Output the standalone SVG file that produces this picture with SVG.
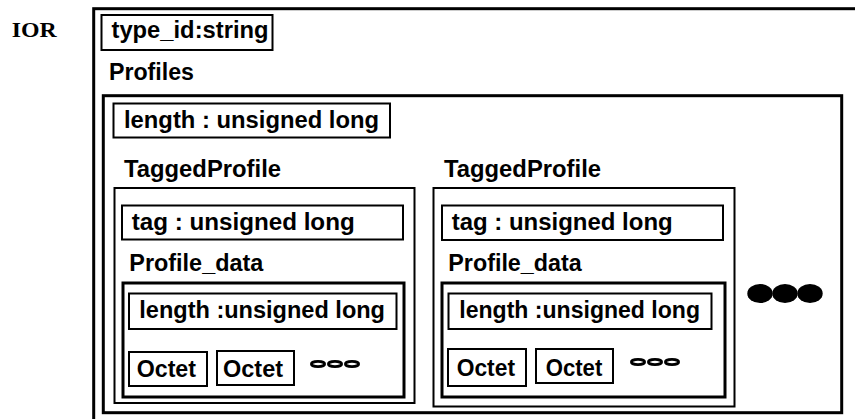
<svg xmlns="http://www.w3.org/2000/svg" width="855" height="419" viewBox="0 0 855 419">
<style>
  .bx{fill:none;stroke:#000;stroke-width:2}
  .thick{fill:none;stroke:#000;stroke-width:3}
  .t{font-family:"Liberation Sans",Arial,sans-serif;font-weight:bold;font-size:23px;fill:#000}
  .ser{font-family:"Liberation Serif","Times New Roman",serif;font-weight:bold;font-size:21px;fill:#000}
  .oo{fill:none;stroke:#000;stroke-width:2.8}
  .dot{fill:#000}
</style>
<rect width="855" height="419" fill="#fff"/>
<g id="ior-label"><text class="ser" x="11.7" y="36.7" textLength="45" lengthAdjust="spacingAndGlyphs">IOR</text></g>
<g id="ior">
  <rect class="thick" x="93.7" y="8.7" width="790" height="430"/>
  <g id="type-id">
    <rect class="bx" x="101.5" y="15" width="171" height="35"/>
    <text class="t" x="111.5" y="38" textLength="157" lengthAdjust="spacingAndGlyphs">type_id:string</text>
  </g>
  <text class="t" x="109" y="79.5" textLength="85" lengthAdjust="spacingAndGlyphs">Profiles</text>
</g>
<g id="profiles">
  <rect class="thick" x="103.3" y="95.7" width="738.4" height="317"/>
  <g id="profiles-length">
    <rect class="bx" x="113.5" y="103.5" width="276.5" height="34"/>
    <text class="t" x="124" y="127.5" textLength="255" lengthAdjust="spacingAndGlyphs">length : unsigned long</text>
  </g>
  <g id="more-profiles">
    <ellipse class="dot" cx="760" cy="293.5" rx="12.7" ry="9.6"/>
    <ellipse class="dot" cx="785" cy="293.5" rx="12.7" ry="9.6"/>
    <ellipse class="dot" cx="810" cy="293.5" rx="12.7" ry="9.6"/>
  </g>
</g>
<g id="tagged-profile-1">
  <text class="t" x="124" y="176.5" textLength="157" lengthAdjust="spacingAndGlyphs">TaggedProfile</text>
  <rect class="bx" x="114.5" y="188" width="300" height="215"/>
  <g id="tag-1">
    <rect class="bx" x="122" y="205.5" width="281" height="34"/>
    <text class="t" x="131.7" y="230" textLength="223" lengthAdjust="spacingAndGlyphs">tag : unsigned long</text>
  </g>
  <text class="t" x="129.3" y="271" textLength="134" lengthAdjust="spacingAndGlyphs">Profile_data</text>
  <g id="profile-data-1">
    <rect class="thick" x="123" y="283" width="281" height="114"/>
    <rect class="bx" x="129" y="293.5" width="267.5" height="35.5"/>
    <text class="t" x="139.3" y="317.5" textLength="245.7" lengthAdjust="spacingAndGlyphs">length :unsigned long</text>
    <rect class="bx" x="129" y="352" width="78" height="34"/>
    <text class="t" x="136.7" y="377" textLength="59.3" lengthAdjust="spacingAndGlyphs">Octet</text>
    <rect class="bx" x="217" y="351" width="77" height="34"/>
    <text class="t" x="223" y="376.8" textLength="60" lengthAdjust="spacingAndGlyphs">Octet</text>
    <ellipse class="oo" cx="318" cy="364" rx="6.6" ry="2.6"/>
    <ellipse class="oo" cx="335" cy="364" rx="6.6" ry="2.6"/>
    <ellipse class="oo" cx="352" cy="364" rx="6.6" ry="2.6"/>
  </g>
</g>
<g id="tagged-profile-2">
  <text class="t" x="444" y="176.5" textLength="157" lengthAdjust="spacingAndGlyphs">TaggedProfile</text>
  <rect class="bx" x="433.5" y="188" width="301" height="218.5"/>
  <g id="tag-2">
    <rect class="bx" x="442" y="205.5" width="281" height="34.5"/>
    <text class="t" x="451.7" y="230" textLength="221" lengthAdjust="spacingAndGlyphs">tag : unsigned long</text>
  </g>
  <text class="t" x="448.3" y="270.5" textLength="133.4" lengthAdjust="spacingAndGlyphs">Profile_data</text>
  <g id="profile-data-2">
    <rect class="thick" x="442" y="283" width="283" height="114"/>
    <rect class="bx" x="448.5" y="293.5" width="263" height="35.5"/>
    <text class="t" x="459.3" y="317.5" textLength="240.7" lengthAdjust="spacingAndGlyphs">length :unsigned long</text>
    <rect class="bx" x="448" y="349" width="78" height="37"/>
    <text class="t" x="456.7" y="375.5" textLength="58.3" lengthAdjust="spacingAndGlyphs">Octet</text>
    <rect class="bx" x="536" y="349" width="77" height="34"/>
    <text class="t" x="545.7" y="376" textLength="56.6" lengthAdjust="spacingAndGlyphs">Octet</text>
    <ellipse class="oo" cx="638" cy="362" rx="6.6" ry="2.6"/>
    <ellipse class="oo" cx="655" cy="362" rx="6.6" ry="2.6"/>
    <ellipse class="oo" cx="672" cy="362" rx="6.6" ry="2.6"/>
  </g>
</g>
</svg>
